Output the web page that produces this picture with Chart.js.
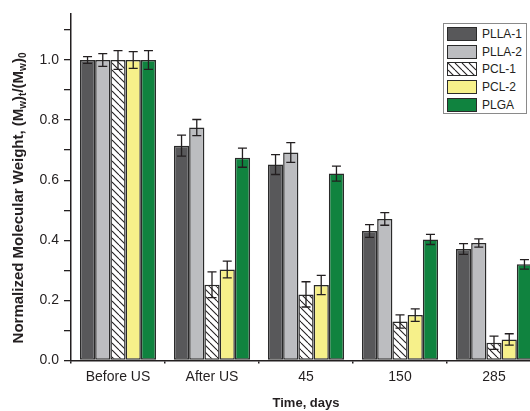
<!DOCTYPE html>
<html>
<head>
<meta charset="utf-8">
<script src="https://cdn.jsdelivr.net/npm/chart.js@4"></script>
<style>
  html, body { margin: 0; padding: 0; background: #fff; overflow: hidden; }
  #wrap { position: relative; width: 545px; height: 411px; }
  #ytitle {
    position: absolute; left: -151px; top: 188px; width: 340px; height: 20px;
    line-height: 20px; text-align: center; transform: rotate(-90deg);
    font: bold 15px "Liberation Sans", Arial, sans-serif; color: #231f20; white-space: nowrap;
  }
  #ytitle sub { font-size: 10px; vertical-align: -3px; }
  #legend {
    position: absolute; left: 443px; top: 23px; width: 84px; height: 91px;
    border: 1.5px solid #8a8a8a; background: #fff; box-sizing: border-box;
    padding: 1px 0 0 3px;
    font: 12px "Liberation Sans", Arial, sans-serif; color: #231f20;
  }
  .row { display: flex; align-items: center; height: 17.8px; }
  .sw { width: 30px; height: 14px; border: 1.5px solid #2a2a2a; margin-right: 5px; box-sizing: border-box; }
</style>
</head>
<body>
<div id="wrap">
  <canvas id="chart" width="545" height="411"></canvas>
  <div id="ytitle">Normalized Molecular Weight, (M<sub>w</sub>)<sub>t</sub>/(M<sub>w</sub>)<sub>0</sub></div>
  <div id="legend"></div>
</div>
<script>
const categories = ["Before US", "After US", "45", "150", "285"];
const seriesNames = ["PLLA-1", "PLLA-2", "PCL-1", "PCL-2", "PLGA"];

const plla1 = [1.0, 0.715, 0.652, 0.431, 0.371];
const plla2 = [1.0, 0.775, 0.692, 0.471, 0.391];
const pcl1 = [1.0, 0.252, 0.220, 0.130, 0.059];
const pcl2 = [1.0, 0.303, 0.251, 0.151, 0.070];
const plga = [1.0, 0.675, 0.622, 0.403, 0.320];

const plla1Err = [0.011, 0.035, 0.033, 0.021, 0.018];
const plla2Err = [0.021, 0.027, 0.033, 0.021, 0.014];
const pcl1Err = [0.031, 0.043, 0.042, 0.022, 0.022];
const pcl2Err = [0.028, 0.028, 0.032, 0.021, 0.019];
const plgaErr = [0.031, 0.032, 0.025, 0.017, 0.016];

const yTicks = [0, 0.2, 0.4, 0.6, 0.8, 1.0];

// diagonal hatch for PCL-1
const pc = document.createElement("canvas");
pc.width = 7; pc.height = 7;
const pctx = pc.getContext("2d");
pctx.fillStyle = "#fff";
pctx.fillRect(0, 0, 7, 7);
pctx.strokeStyle = "#231f20";
pctx.lineWidth = 1.1;
for (const x0 of [-7, 0, 7]) {
  pctx.beginPath();
  pctx.moveTo(x0, 0);
  pctx.lineTo(x0 + 7, 7);
  pctx.stroke();
}
const ctx = document.getElementById("chart").getContext("2d");
const hatch = ctx.createPattern(pc, "repeat");

const colors = ["#58585a", "#bcbdc0", hatch, "#f6f08a", "#10833f"];
const values = [plla1, plla2, pcl1, pcl2, plga];
const errors = [plla1Err, plla2Err, pcl1Err, pcl2Err, plgaErr];

// html legend
const legend = document.getElementById("legend");
seriesNames.forEach((name, i) => {
  const row = document.createElement("div");
  row.className = "row";
  const sw = document.createElement("div");
  sw.className = "sw";
  if (i === 2) {
    sw.style.backgroundImage = "url(" + pc.toDataURL() + ")";
  } else {
    sw.style.background = colors[i];
  }
  const label = document.createElement("span");
  label.textContent = name;
  row.appendChild(sw);
  row.appendChild(label);
  legend.appendChild(row);
});

const errorBars = {
  id: "errorBars",
  afterDatasetsDraw(chart) {
    const c = chart.ctx;
    const y = chart.scales.y;
    c.save();
    c.strokeStyle = "#231f20";
    c.lineWidth = 1.3;
    chart.data.datasets.forEach((ds, di) => {
      const meta = chart.getDatasetMeta(di);
      meta.data.forEach((bar, i) => {
        const v = ds.data[i];
        const e = errors[di][i];
        const top = y.getPixelForValue(v + e);
        const bot = y.getPixelForValue(v - e);
        c.beginPath();
        c.moveTo(bar.x, top); c.lineTo(bar.x, bot);
        c.moveTo(bar.x - 4.5, top); c.lineTo(bar.x + 4.5, top);
        c.moveTo(bar.x - 4.5, bot); c.lineTo(bar.x + 4.5, bot);
        c.stroke();
      });
    });
    c.restore();
  }
};

new Chart(ctx, {
  type: "bar",
  data: {
    labels: categories,
    datasets: seriesNames.map((name, i) => ({
      label: name,
      data: values[i],
      backgroundColor: colors[i],
      borderColor: "#2a2a2a",
      borderWidth: 1.5,
      borderSkipped: false,
      barPercentage: 1.0,
      categoryPercentage: 0.81
    }))
  },
  options: {
    responsive: false,
    animation: false,
    layout: { padding: { top: 13, right: 4, left: 0, bottom: 0 } },
    plugins: {
      legend: { display: false },
      tooltip: { enabled: false }
    },
    scales: {
      x: {
        offset: true,
        grid: { offset: true, drawOnChartArea: false, drawTicks: true, tickLength: 3, color: "#231f20", lineWidth: 1.5 },
        border: { color: "#231f20", width: 1.5 },
        ticks: { color: "#231f20", padding: 5, font: { family: "Liberation Sans", size: 14 }, maxRotation: 0 },
        title: { display: true, text: "Time, days", color: "#231f20", font: { family: "Liberation Sans", size: 13, weight: "bold" }, padding: { top: 8, bottom: 0 } },
        afterFit(scale) { scale.height = 50.5; }
      },
      y: {
        min: 0,
        max: 1.155,
        grid: { drawOnChartArea: false, drawTicks: true, tickLength: 7, color: "#231f20", lineWidth: 1.3 },
        border: { color: "#231f20", width: 1.5 },
        afterBuildTicks(scale) {
          scale.ticks = scale.ticks.filter(t => Math.abs(t.value * 10 - Math.round(t.value * 10)) < 1e-6);
        },
        ticks: {
          stepSize: 0.1,
          color: "#231f20",
          padding: 5,
          font: { family: "Liberation Sans", size: 14 },
          callback(v) {
            return yTicks.some(t => Math.abs(t - v) < 1e-6) ? v.toFixed(1) : "";
          }
        },
        afterFit(scale) { scale.width = 71; }
      }
    }
  },
  plugins: [errorBars]
});
</script>
</body>
</html>
